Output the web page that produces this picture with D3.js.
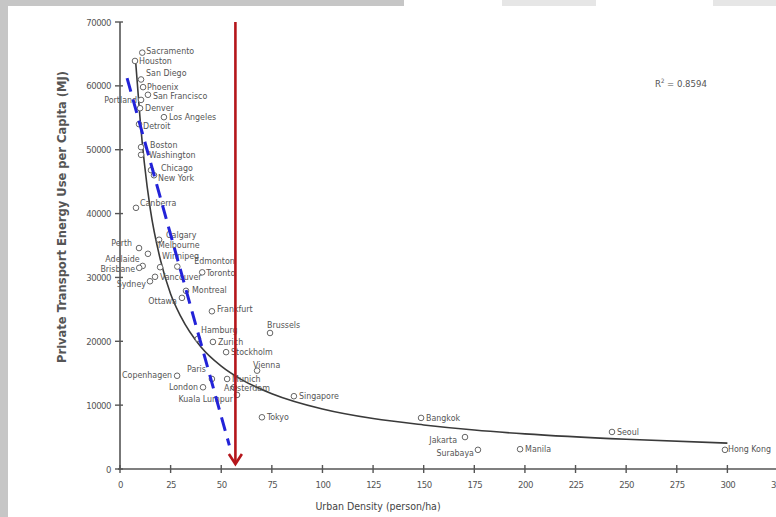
<!doctype html>
<html>
<head>
<meta charset="utf-8">
<script src="https://d3js.org/d3.v7.min.js"></script>
<style>
body { margin: 0; background: #fff; }
svg text { font-family: "Liberation Sans Narrow", "DejaVu Sans Condensed", Arial, sans-serif; }
.axis path { display: none; }
</style>
</head>
<body>
<script>

// cities
var cities = ["Sacramento", "Houston", "San Diego", "Phoenix", "San Francisco", "Portland",
  "Denver", "Los Angeles", "Detroit", "Boston", "Washington", "Chicago", "New York",
  "Canberra", "Calgary", "Perth", "Melbourne", "Winnipeg", "Adelaide", "Brisbane",
  "Edmonton", "Toronto", "Vancouver", "Sydney", "Montreal", "Ottawa", "Frankfurt",
  "Hamburg", "Zurich", "Brussels", "Stockholm", "Vienna", "Copenhagen", "Paris",
  "Munich", "London", "Amsterdam", "Kuala Lumpur", "Singapore", "Tokyo", "Bangkok",
  "Jakarta", "Surabaya", "Manila", "Seoul", "Hong Kong"];

var density = [11.0, 7.4, 10.4, 11.4, 13.8, 10.4,
  9.9, 21.7, 9.4, 10.4, 10.4, 15.3, 16.8,
  7.9, 19.3, 9.4, 13.8, 19.8, 11.2, 9.5,
  28.3, 40.6, 17.3, 14.8, 32.6, 30.6, 45.4,
  38.5, 45.9, 74.1, 52.4, 67.7, 28.2, 45.4,
  52.9, 41.0, 56.3, 57.8, 85.9, 70.1, 148.7,
  170.4, 176.8, 197.6, 243.0, 298.8];

var energy = [65200, 63900, 61000, 59800, 58600, 57800,
  56500, 55100, 54000, 50400, 49200, 46800, 46000,
  40900, 35900, 34600, 33700, 31600, 31800, 31500,
  31700, 30800, 30100, 29400, 27900, 26800, 24700,
  20400, 19900, 21300, 18300, 15400, 14600, 14100,
  14100, 12800, 12800, 11600, 11400, 8100, 8000,
  5000, 3000, 3100, 5800, 3000];

// trend curve, points
var curveDensity = [7.8, 10, 12, 15, 20, 25, 30, 40, 50, 60, 75, 100, 125, 150, 175, 200, 250, 300];
var curveEnergy = [63500, 54500, 48000, 40600, 32700, 27400, 23900, 19100, 16100, 14000, 11800, 9400, 7900, 6900, 6100, 5500, 4650, 4050];

// hand drawn overlays
var dashDensity = [3.5, 54];
var dashEnergy = [61200, 3700];
var markDensity = 57;

var xTicks = [0, 25, 50, 75, 100, 125, 150, 175, 200, 225, 250, 275, 300, 325];
var yTicks = [0, 10000, 20000, 30000, 40000, 50000, 60000, 70000];
var rSquared = "0.8594";

// where each city's label sits next to its circle: [anchor, dx, dy]
var labelPlace = {
  "Sacramento": ["start", 4, 1], "Houston": ["start", 4, 3], "San Diego": ["start", 5, -3],
  "Phoenix": ["start", 4, 3], "San Francisco": ["start", 5, 4], "Portland": ["end", -4, 3],
  "Denver": ["start", 5, 3],
  "Detroit": ["start", 4, 5], "Boston": ["start", 9, 1], "Washington": ["start", 8, 3],
  "Chicago": ["start", 10, 1], "New York": ["start", 4, 6], "Canberra": ["start", 4, -2],
  "Calgary": ["start", 7, -2], "Perth": ["end", -7, -2], "Melbourne": ["start", 10, -6],
  "Winnipeg": ["start", 2, -8], "Adelaide": ["end", -3, -4], "Brisbane": ["end", -4, 4],
  "Edmonton": ["start", 17, -3], "Vancouver": ["start", 5, 3], "Sydney": ["end", -4, 6],
  "Montreal": ["start", 6, 2], "Ottawa": ["end", -5, 6], "Frankfurt": ["start", 5, 1],
  "Hamburg": ["start", 3, -6], "Brussels": ["start", -3, -5], "Vienna": ["start", -4, -3],
  "Copenhagen": ["end", -5, 2], "Paris": ["end", -6, -7], "London": ["end", -5, 3],
  "Amsterdam": ["start", -10, 4], "Kuala Lumpur": ["end", -4, 7], "Jakarta": ["end", -8, 6],
  "Surabaya": ["end", -4, 6], "Hong Kong": ["start", 3, 2], "Toronto": ["start", 4, 4]
};

var W = 776, H = 517;
var svg = d3.select("body").append("svg")
  .attr("width", W)
  .attr("height", H);

// scan border bits
svg.append("rect").attr("x", 0).attr("y", 0).attr("width", 8).attr("height", H).attr("fill", "#c6c6c6");
svg.append("rect").attr("x", 0).attr("y", 0).attr("width", 404).attr("height", 6).attr("fill", "#c6c6c6");
svg.append("rect").attr("x", 502).attr("y", 0).attr("width", 94).attr("height", 6).attr("fill", "#e6e6e6");
svg.append("rect").attr("x", 713).attr("y", 0).attr("width", 63).attr("height", 6).attr("fill", "#e6e6e6");

var x = d3.scaleLinear().domain([0, 325]).range([120, 778]);
var y = d3.scaleLinear().domain([0, 70000]).range([469, 22]);

// axes
var yAxis = d3.axisLeft(y).tickValues(yTicks).tickSize(0).tickPadding(9).tickFormat(d3.format("d"));
var gy = svg.append("g").attr("class", "axis")
  .attr("transform", "translate(" + x(0) + ",0)")
  .call(yAxis);
gy.selectAll("text").attr("fill", "#555").attr("font-size", 9.5).attr("letter-spacing", -0.5);

var xAxis = d3.axisBottom(x).tickValues(xTicks).tickSize(0).tickPadding(12).tickFormat(d3.format("d"));
var gx = svg.append("g").attr("class", "axis")
  .attr("transform", "translate(0," + y(0) + ")")
  .call(xAxis);
gx.selectAll("text").attr("fill", "#555").attr("font-size", 9.5).attr("letter-spacing", -0.5);

svg.append("line")
  .attr("x1", x(0)).attr("x2", x(0))
  .attr("y1", y(70000)).attr("y2", y(0) + 1)
  .attr("stroke", "#555").attr("stroke-width", 1.6);
svg.append("line")
  .attr("x1", x(0) - 2).attr("x2", W)
  .attr("y1", y(0)).attr("y2", y(0))
  .attr("stroke", "#555").attr("stroke-width", 1.6);

svg.selectAll(".ytick").data(yTicks).enter().append("line")
  .attr("x1", x(0) - 5).attr("x2", x(0) + 3)
  .attr("y1", function(d) { return y(d); })
  .attr("y2", function(d) { return y(d); })
  .attr("stroke", "#555").attr("stroke-width", 1.4);
svg.selectAll(".xtick").data(xTicks).enter().append("line")
  .attr("x1", function(d) { return x(d); })
  .attr("x2", function(d) { return x(d); })
  .attr("y1", y(0) - 4).attr("y2", y(0) + 4)
  .attr("stroke", "#555").attr("stroke-width", 1.4);

// axis titles
svg.append("text")
  .attr("x", 378).attr("y", 510)
  .attr("text-anchor", "middle")
  .attr("font-size", 10.5).attr("fill", "#444")
  .text("Urban Density (person/ha)");

svg.append("text")
  .attr("transform", "translate(66,217) rotate(-90)")
  .attr("text-anchor", "middle")
  .attr("font-size", 12.8).attr("font-weight", "bold").attr("fill", "#555")
  .text("Private Transport Energy Use per Capita (MJ)");

// trend curve
var curvePts = curveDensity.map(function(d, i) { return [d, curveEnergy[i]]; });
var line = d3.line()
  .x(function(d) { return x(d[0]); })
  .y(function(d) { return y(d[1]); })
  .curve(d3.curveMonotoneX);

svg.append("path")
  .attr("d", line(curvePts))
  .attr("fill", "none")
  .attr("stroke", "#3a3a3a")
  .attr("stroke-width", 1.6);

// r squared
var rt = svg.append("text")
  .attr("x", 655).attr("y", 87)
  .attr("font-size", 9.5).attr("fill", "#555");
rt.append("tspan").text("R");
rt.append("tspan").attr("dy", -4).attr("font-size", 6).text("2");
rt.append("tspan").attr("dy", 4).text(" = " + rSquared);

// city points
var pts = svg.append("g");
cities.forEach(function(c, i) {
  var cx = x(density[i]), cy = y(energy[i]);
  pts.append("circle")
    .attr("cx", cx).attr("cy", cy).attr("r", 2.8)
    .attr("fill", "#fff").attr("stroke", "#666").attr("stroke-width", 1);
  var p = labelPlace[c] || ["start", 5, 3];
  pts.append("text")
    .attr("x", cx + p[1]).attr("y", cy + p[2])
    .attr("text-anchor", p[0])
    .attr("font-size", 8.8).attr("fill", "#555")
    .text(c);
});

// blue dashed guide
svg.append("line")
  .attr("x1", x(dashDensity[0])).attr("y1", y(dashEnergy[0]))
  .attr("x2", x(dashDensity[1])).attr("y2", y(dashEnergy[1]))
  .attr("stroke", "#2323d8")
  .attr("stroke-width", 3)
  .attr("stroke-dasharray", "14,8");

// red arrow
var ax = x(markDensity);
svg.append("line")
  .attr("x1", ax).attr("x2", ax)
  .attr("y1", y(70000)).attr("y2", y(0) - 5)
  .attr("stroke", "#b5161b").attr("stroke-width", 2.6);
svg.append("path")
  .attr("d", "M" + (ax - 6.5) + "," + (y(0) - 15) + "L" + ax + "," + (y(0) - 5) + "L" + (ax + 6.5) + "," + (y(0) - 15))
  .attr("fill", "none")
  .attr("stroke", "#b5161b").attr("stroke-width", 2.6);

</script>
</body>
</html>
